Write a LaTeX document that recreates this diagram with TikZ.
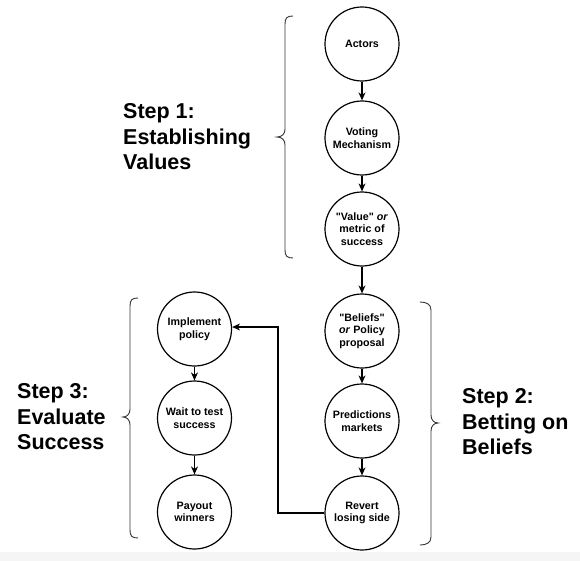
\documentclass[tikz,border=0pt]{standalone}
\usepackage{fontspec}
\setmainfont{Liberation Sans}
\usetikzlibrary{arrows.meta}
\begin{document}
\begin{tikzpicture}[x=1pt,y=-1pt,
  stage/.style={draw, line width=1.2pt, circle, minimum size=74pt, inner sep=0pt, align=center,
    font=\fontsize{10.7}{12.7}\selectfont\bfseries},
  steplabel/.style={anchor=west, align=left, inner sep=0pt,
    font=\fontsize{21.5}{25.5}\selectfont\bfseries},
  flow/.style={draw, line width=1.1pt, -{Stealth[length=8pt,width=7pt,inset=2.5pt]}},
  bracket/.style={draw, line width=0.9pt, black!80}]
\useasboundingbox (0,0) rectangle (580,561);
\fill[black!4] (0,552) rectangle (580,561);
% right column
\node[stage] (actors) at (362,44) {Actors};
\node[stage] (voting) at (362,138) {Voting\\Mechanism};
\node[stage] (value) at (362,229) {\textquotedbl Value\textquotedbl{} \textit{or}\\metric of\\success};
\node[stage] (beliefs) at (362,331) {\textquotedbl Beliefs\textquotedbl\\\textit{or} Policy\\proposal};
\node[stage] (pred) at (362,421) {Predictions\\markets};
\node[stage] (revert) at (362,513) {Revert\\losing side};
% left column
\node[stage] (impl) at (194.5,329) {Implement\\policy};
\node[stage] (wait) at (194.5,418) {Wait to test\\success};
\node[stage] (payout) at (194.5,512) {Payout\\winners};
% connectors
\draw[flow] (actors) -- (voting);
\draw[flow] (voting) -- (value);
\draw[flow] (value) -- (beliefs);
\draw[flow] (beliefs) -- (pred);
\draw[flow] (pred) -- (revert);
\draw[flow] (impl) -- (wait);
\draw[flow] (wait) -- (payout);
\coordinate (c1) at (278,513);
\coordinate (c2) at (278,327);
\draw[flow] (revert.west) -- (c1) -- (c2) -- (impl.east |- c2);
% braces
\draw[bracket] (293,16) .. controls (287,16) and (285,18) .. (285,24) -- (285,129)
  .. controls (285,134) and (282,137) .. (277,137)
  .. controls (282,137) and (285,140) .. (285,145) -- (285,250)
  .. controls (285,256) and (287,258) .. (293,258);
\draw[bracket] (138,298) .. controls (132,298) and (130,300) .. (130,306) -- (130,409)
  .. controls (130,414) and (127,417) .. (123,417)
  .. controls (127,417) and (130,420) .. (130,425) -- (130,530)
  .. controls (130,536) and (132,538) .. (138,538);
\draw[bracket] (420,302) .. controls (426,302) and (431,304) .. (431,310) -- (431,415)
  .. controls (431,420) and (434,423) .. (438,423)
  .. controls (434,423) and (431,426) .. (431,431) -- (431,537)
  .. controls (431,543) and (426,545) .. (420,545);
% step labels
\node[steplabel] (s1) at (123,137) {Step 1:\\Establishing\\Values};
\node[steplabel] (s3) at (17,417) {Step 3:\\Evaluate\\Success};
\node[steplabel] (s2) at (462,422) {Step 2:\\Betting on\\Beliefs};
\end{tikzpicture}
\end{document}
